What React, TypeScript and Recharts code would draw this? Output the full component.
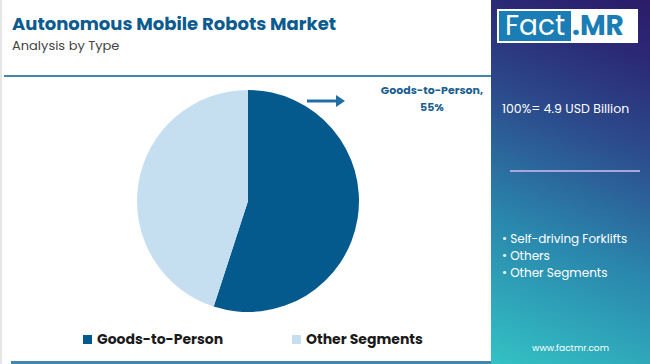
import React from 'react';
import { PieChart, Pie, Cell, Legend } from 'recharts';

const segments = ['Goods-to-Person', 'Other Segments'];
const shares = [55, 45];
const sliceColors = ['#045a8d', '#c6dff0'];
const otherTypes = ['Self-driving Forklifts', 'Others', 'Other Segments'];
const totalLabel = '100%= 4.9 USD Billion';

const data = segments.map((name, i) => ({ name, value: shares[i] }));

const FONT = 'Poppins, "Open Sans", "Noto Sans", sans-serif';

const LegendContent = (props: any) => {
  const { payload } = props;
  return (
    <div style={{ position: 'relative', height: 20 }}>
      {payload.map((p: any, i: number) => (
        <div
          key={p.value}
          style={{
            position: 'absolute',
            left: i === 0 ? 83 : 292,
            top: 0,
            display: 'flex',
            alignItems: 'center',
            fontFamily: FONT,
            fontWeight: 700,
            fontSize: 14,
            color: '#1a1a1a',
            whiteSpace: 'nowrap',
          }}
        >
          <span style={{ display: 'inline-block', width: 9, height: 9, background: p.color, marginRight: 5 }} />
          {p.value}
        </div>
      ))}
    </div>
  );
};

export default function App() {
  return (
    <div style={{ position: 'fixed', left: 0, top: 0, width: 650, height: 364, background: '#fff', overflow: 'hidden', fontFamily: FONT }}>
      <div style={{ position: 'absolute', left: 0, top: 0, width: 2, height: 364, background: '#e6e6e6' }} />
      <div style={{ position: 'absolute', left: 12, top: 10, fontSize: 18, fontWeight: 700, color: '#0b5b8f', whiteSpace: 'nowrap' }}>
        Autonomous Mobile Robots Market
      </div>
      <div style={{ position: 'absolute', left: 12, top: 36, fontSize: 13, color: '#444', whiteSpace: 'nowrap' }}>
        Analysis by Type
      </div>
      <div style={{ position: 'absolute', left: 4, top: 75, width: 488, height: 2, background: '#3f86b0' }} />
      <div style={{ position: 'absolute', left: 11, top: 361, width: 480, height: 3, background: '#3f86b0' }} />

      <div style={{ position: 'absolute', left: 0, top: 0 }}>
        <PieChart width={492} height={364} margin={{ top: 0, right: 0, bottom: 0, left: 0 }}>
          <Pie
            data={data}
            dataKey="value"
            nameKey="name"
            cx={248}
            cy={201}
            outerRadius={111}
            startAngle={90}
            endAngle={-270}
            stroke="none"
            isAnimationActive={false}
          >
            {data.map((d, i) => (
              <Cell key={d.name} fill={sliceColors[i]} />
            ))}
          </Pie>
          <Legend
            verticalAlign="bottom"
            align="left"
            content={<LegendContent />}
            wrapperStyle={{ left: 0, top: 329, width: 492 }}
          />
        </PieChart>
      </div>

      <svg style={{ position: 'absolute', left: 300, top: 92 }} width={50} height={20}>
        <line x1={7} y1={9} x2={38} y2={9} stroke="#1f6fa5" strokeWidth={3} />
        <polygon points="36,3 45,9 36,15" fill="#1f6fa5" />
      </svg>
      <div style={{ position: 'absolute', left: 372, top: 82, width: 120, textAlign: 'center', fontSize: 11, fontWeight: 700, color: '#1b5f8f', lineHeight: '17px' }}>
        {segments[0]},<br />{shares[0]}%
      </div>

      <div
        style={{
          position: 'absolute',
          left: 491,
          top: 0,
          width: 159,
          height: 364,
          background: 'linear-gradient(22deg, #33c2c4 0%, #2a86ad 35%, #2c4f8e 62%, #2b2a76 85%, #2b1c69 100%)',
        }}
      >
        <div style={{ position: 'absolute', left: 6, top: 9, width: 141, height: 34, background: '#fff' }}>
          <div style={{ position: 'absolute', left: 2, top: 2, width: 72, height: 30, background: '#1a7db5', color: '#fff', fontSize: 28, lineHeight: '30px', paddingLeft: 6, boxSizing: 'border-box' }}>
            Fact
          </div>
          <div style={{ position: 'absolute', left: 75, top: 2, height: 30, color: '#1a7db5', fontSize: 28, fontWeight: 700, lineHeight: '30px' }}>
            .MR
          </div>
        </div>
        <div style={{ position: 'absolute', left: 11, top: 100, fontSize: 12.5, color: '#fff', whiteSpace: 'nowrap' }}>
          {totalLabel}
        </div>
        <div style={{ position: 'absolute', left: 19, top: 170, width: 130, height: 2, background: '#a9a6dd' }} />
        <div style={{ position: 'absolute', left: 11, top: 230, fontSize: 12, color: '#fff', lineHeight: '17px', whiteSpace: 'nowrap' }}>
          {otherTypes.map((t) => (
            <div key={t}>• {t}</div>
          ))}
        </div>
        <div style={{ position: 'absolute', left: 0, width: 159, top: 342, textAlign: 'center', fontSize: 9, color: '#fff' }}>
          www.factmr.com
        </div>
      </div>
    </div>
  );
}
